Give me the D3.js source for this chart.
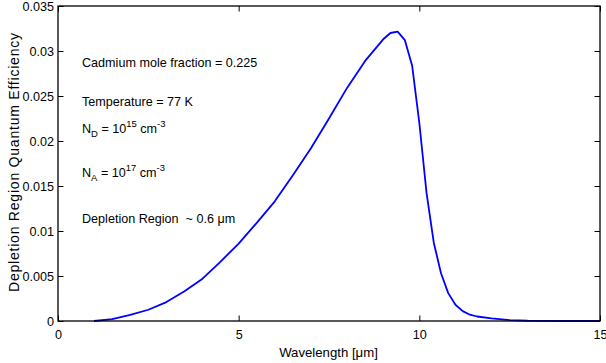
<!DOCTYPE html>
<html><head><meta charset="utf-8">
<script src="https://cdn.jsdelivr.net/npm/d3@7"></script>
<style>
body{margin:0;background:#fff;}
text{font-family:"Liberation Sans",Arial,Helvetica,sans-serif;fill:#000;}
</style></head>
<body><svg id="c" width="606" height="363"></svg>
<script>
const wavelength = [1.0,1.5,2.0,2.5,3.0,3.5,4.0,4.5,5.0,5.5,6.0,6.5,7.0,7.5,8.0,8.5,9.0,9.2,9.4,9.6,9.8,10.0,10.2,10.4,10.6,10.8,11.0,11.2,11.4,11.6,12.0,12.5,13.0,14.0,15.0];
const efficiency = [0,0.00022,0.00068,0.00125,0.0021,0.0033,0.0047,0.0066,0.0086,0.0109,0.0133,0.0162,0.0192,0.0225,0.0259,0.0289,0.0313,0.0320,0.03215,0.0312,0.0284,0.0220,0.0142,0.0087,0.0053,0.0031,0.0018,0.0011,0.0007,0.0005,0.0003,0.0001,0.00003,0,0];
const xTicks = [0,5,10,15];
const yTicks = [0,0.005,0.01,0.015,0.02,0.025,0.03,0.035];
const yTickLabels = ["0","0.005","0.01","0.015","0.02","0.025","0.03","0.035"];
const xLabel = "Wavelength [\u03BCm]";
const yLabel = "Depletion Region Quantum Efficiency";

const svg = d3.select("#c");
const L=58, R=600, T=6, B=321;
const x = d3.scaleLinear().domain([0,15]).range([L,R]);
const y = d3.scaleLinear().domain([0,0.035]).range([B,T]);
const fs = 12.6;

const tk = 5.5;
// bottom axis
svg.append("g").attr("transform",`translate(0,${B})`)
  .call(d3.axisBottom(x).tickValues(xTicks).tickSize(-tk).tickPadding(9).tickFormat(d3.format("d")))
  .call(g=>{g.select(".domain").remove();g.selectAll("text").attr("font-size",fs).attr("dy","0.71em").attr("font-family","Liberation Sans, Arial, sans-serif");});
// top ticks
svg.append("g").attr("transform",`translate(0,${T})`)
  .call(d3.axisTop(x).tickValues(xTicks).tickSize(-tk).tickFormat(""))
  .call(g=>g.select(".domain").remove());
// left axis
svg.append("g").attr("transform",`translate(${L},0)`)
  .call(d3.axisLeft(y).tickValues(yTicks).tickSize(-tk).tickPadding(4).tickFormat((d,i)=>yTickLabels[i]))
  .call(g=>{g.select(".domain").remove();g.selectAll("text").attr("font-size",fs).attr("font-family","Liberation Sans, Arial, sans-serif");});
// right ticks
svg.append("g").attr("transform",`translate(${R},0)`)
  .call(d3.axisRight(y).tickValues(yTicks).tickSize(-tk).tickFormat(""))
  .call(g=>g.select(".domain").remove());
svg.selectAll(".tick line").attr("stroke","#000").attr("stroke-width",1);

// curve
svg.append("path").datum(wavelength.map((w,i)=>[w,efficiency[i]]))
  .attr("fill","none").attr("stroke","#0000ff").attr("stroke-width",1.8).attr("stroke-linejoin","round")
  .attr("d",d3.line().x(d=>x(d[0])).y(d=>y(d[1])));

// box
svg.append("rect").attr("x",L).attr("y",T).attr("width",R-L).attr("height",B-T)
  .attr("fill","none").attr("stroke","#000").attr("stroke-width",1.3);

// labels
svg.append("text").attr("x",328.5).attr("y",357).attr("text-anchor","middle").attr("font-size",13.2).text(xLabel);
svg.append("text").attr("transform",`translate(18.5,162.5) rotate(-90)`).attr("text-anchor","middle")
  .attr("font-size",14).attr("textLength",259).attr("lengthAdjust","spacing").text(yLabel);

// annotations
const ax = 82;
svg.append("text").attr("x",ax).attr("y",67).attr("font-size",fs).text("Cadmium mole fraction = 0.225");
svg.append("text").attr("x",ax).attr("y",105.5).attr("font-size",fs).text("Temperature = 77 K");
function doping(yy, sub, exp){
  const t = svg.append("text").attr("x",ax).attr("y",yy).attr("font-size",fs);
  t.append("tspan").text("N");
  t.append("tspan").attr("font-size",fs*0.75).attr("dy",4).text(sub);
  t.append("tspan").attr("dy",-4).text(" = 10");
  t.append("tspan").attr("font-size",fs*0.75).attr("dy",-6).text(exp);
  t.append("tspan").attr("dy",6).text(" cm");
  t.append("tspan").attr("font-size",fs*0.75).attr("dy",-6).text("-3");
}
doping(133,"D","15");
doping(176.5,"A","17");
svg.append("text").attr("x",ax).attr("y",223).attr("font-size",fs).text("Depletion Region  ~ 0.6 \u03BCm").style("white-space","pre");
</script></body></html>
